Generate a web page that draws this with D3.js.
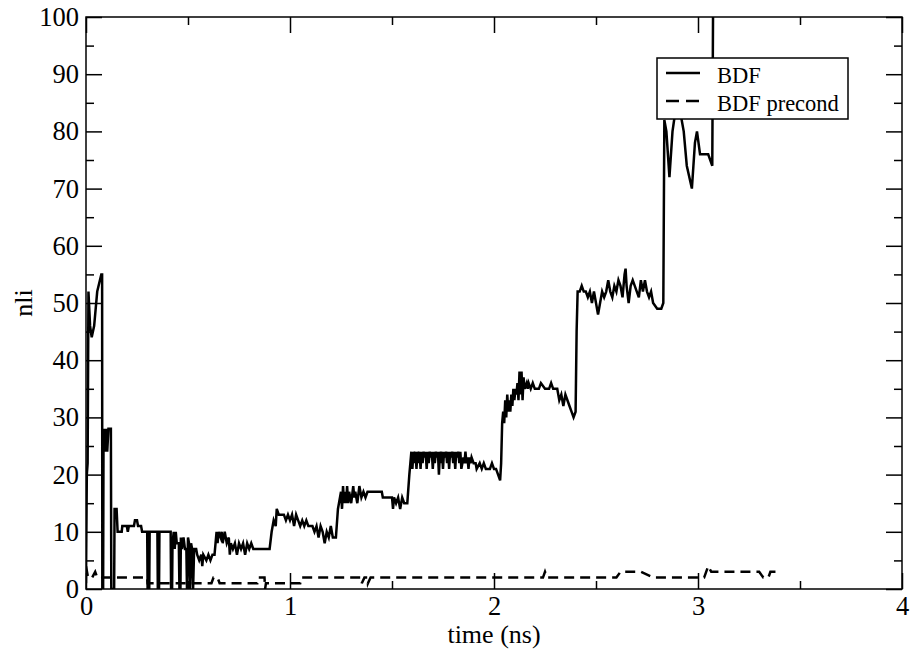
<!DOCTYPE html>
<html><head><meta charset="utf-8">
<script src="https://cdn.jsdelivr.net/npm/d3@7"></script>
<style>
body{margin:0;background:#fff}
svg text{font-family:"Liberation Serif","DejaVu Serif","Times New Roman",Times,serif !important;}
</style>
</head><body>
<svg id="c" width="912" height="654"></svg>
<script>
// ---- data ----
const xMajor = [0, 1, 2, 3, 4];
const xMinor = [0.5, 1.5, 2.5, 3.5];
const yMajor = [0, 10, 20, 30, 40, 50, 60, 70, 80, 90, 100];
const yMinor = [5, 15, 25, 35, 45, 55, 65, 75, 85, 95];
const seriesNames = ["BDF", "BDF precond"];
const xLabel = "time (ns)";
const yLabel = "nli";

// BDF: [time (ns), nli]
const bdf = [
[0,1],[0.004,20],[0.008,22],[0.012,52],[0.02,46],[0.028,44],[0.04,46],[0.055,52],[0.075,55],[0.079,55],
[0.08,0],[0.084,0],[0.086,28],[0.092,24],[0.098,28],[0.104,24],[0.11,28],[0.122,28],[0.124,0],[0.138,0],
[0.14,14],[0.15,14],[0.155,10],[0.175,10],[0.178,11],[0.2,11],[0.205,10],[0.21,11],[0.235,11],[0.24,12],
[0.25,12],[0.255,11],[0.27,11],[0.275,10],[0.3,10],[0.302,0],[0.31,0],[0.312,10],[0.35,10],[0.352,0],
[0.358,0],[0.36,10],[0.415,10],[0.417,0],[0.422,0],[0.424,8],[0.43,10],[0.435,7],[0.44,10],[0.445,8],
[0.455,8],[0.458,0],[0.463,0],[0.465,9],[0.47,7],[0.478,9],[0.485,7],[0.492,7],[0.495,0],[0.5,9],
[0.505,8],[0.51,0],[0.515,8],[0.52,7],[0.525,0],[0.53,7],[0.54,7],[0.545,6],[0.555,5],[0.565,6],
[0.57,4],[0.575,6],[0.59,5],[0.6,6],[0.61,5],[0.62,6],[0.63,6],[0.635,8],[0.64,10],[0.645,8],
[0.65,10],[0.66,9],[0.665,10],[0.67,8],[0.68,10],[0.69,8],[0.7,9],[0.705,6],[0.71,8],[0.72,7],
[0.73,8],[0.74,6],[0.75,8],[0.76,7],[0.77,8],[0.78,6],[0.79,8],[0.8,7],[0.81,8],[0.82,7],
[0.83,7],[0.9,7],[0.91,10],[0.92,12],[0.93,11],[0.935,14],[0.945,13],[0.97,13],[0.98,12],[0.99,13],
[1.0,12],[1.01,13],[1.02,11],[1.03,13],[1.04,12],[1.05,11],[1.06,12],[1.07,11],[1.08,12],[1.09,11],
[1.11,11],[1.12,10],[1.13,11],[1.14,9],[1.15,11],[1.16,10],[1.17,8],[1.18,10],[1.19,9],[1.2,11],
[1.21,9],[1.225,9],[1.235,14],[1.24,15],[1.25,17],[1.255,14],[1.26,18],[1.265,15],[1.27,17],[1.275,15],
[1.28,18],[1.285,15],[1.29,17],[1.3,15],[1.31,18],[1.315,16],[1.32,17],[1.33,15],[1.34,18],[1.35,16],
[1.36,17],[1.37,16],[1.38,17],[1.39,17],[1.45,17],[1.455,16],[1.5,16],[1.505,14],[1.51,16],[1.52,15],
[1.53,16],[1.54,14],[1.55,16],[1.56,15],[1.575,15],[1.585,20],[1.59,22],[1.595,24],[1.6,21],[1.605,24],
[1.61,22],[1.615,24],[1.62,21],[1.625,24],[1.63,22],[1.635,24],[1.64,21],[1.645,24],[1.65,22],[1.655,24],
[1.66,23],[1.665,24],[1.67,21],[1.675,24],[1.68,22],[1.685,24],[1.69,23],[1.695,24],[1.7,21],[1.705,24],
[1.71,22],[1.715,24],[1.72,23],[1.725,24],[1.73,20],[1.735,24],[1.74,22],[1.745,24],[1.75,21],[1.755,24],
[1.76,23],[1.765,24],[1.77,22],[1.775,24],[1.78,21],[1.785,24],[1.79,23],[1.795,24],[1.8,22],[1.805,24],
[1.81,21],[1.815,24],[1.82,23],[1.825,24],[1.83,22],[1.835,24],[1.84,21],[1.85,23],[1.855,22],[1.86,24],
[1.865,22],[1.87,23],[1.875,21],[1.88,23],[1.885,22],[1.89,23],[1.9,22],[1.91,22],[1.915,21],[1.93,22],
[1.94,21],[1.95,22],[1.96,21],[1.98,21],[1.99,22],[2.0,21],[2.01,21],[2.02,20],[2.03,19],[2.035,22],
[2.04,29],[2.045,31],[2.05,29],[2.055,33],[2.06,30],[2.065,34],[2.07,31],[2.075,33],[2.08,31],[2.085,34],
[2.09,32],[2.095,35],[2.1,33],[2.105,35],[2.11,34],[2.115,36],[2.12,33],[2.125,38],[2.13,34],[2.135,38],
[2.14,33],[2.145,37],[2.15,35],[2.16,36],[2.165,35],[2.17,36],[2.18,35],[2.19,36],[2.2,35],[2.22,35],
[2.23,36],[2.25,35],[2.27,35],[2.28,36],[2.29,35],[2.31,35],[2.32,33],[2.33,34],[2.34,32],[2.35,34],
[2.36,33],[2.37,32],[2.38,31],[2.39,30],[2.4,31],[2.405,45],[2.41,52],[2.42,52],[2.43,53],[2.44,52],
[2.45,52],[2.46,51],[2.47,52],[2.48,50],[2.49,52],[2.5,50],[2.51,48],[2.52,50],[2.53,52],[2.54,51],
[2.55,52],[2.56,54],[2.57,52],[2.58,51],[2.59,53],[2.6,52],[2.61,54],[2.62,53],[2.63,51],[2.64,55],
[2.645,56],[2.65,53],[2.66,50],[2.67,53],[2.68,54],[2.69,53],[2.7,52],[2.71,51],[2.72,54],[2.73,52],
[2.74,54],[2.75,52],[2.76,51],[2.77,52],[2.78,50],[2.8,49],[2.82,49],[2.83,50],[2.835,82],[2.845,80],
[2.86,72],[2.875,80],[2.887,83],[2.9,88],[2.91,84],[2.93,80],[2.945,74],[2.97,70],[2.985,78],[2.995,80],
[3.01,76],[3.02,76],[3.05,76],[3.07,74],[3.075,110]
];

// BDF precond: [time (ns), nli]
const precond = [
[0,4],[0.01,2],[0.03,2],[0.045,3],[0.055,2],[0.3,2],[0.302,1],[0.615,1],[0.625,2],[0.645,2],
[0.655,1],[0.84,1],[0.845,2],[0.875,2],[0.878,0],[0.882,1],[1.05,1],[1.055,2],[1.35,2],[1.352,1],
[1.365,2],[1.38,2],[1.382,1],[1.395,2],[2.24,2],[2.25,3],[2.26,2],[2.6,2],[2.62,3],[2.72,3],
[2.78,2],[3.03,2],[3.05,4],[3.065,3],[3.3,3],[3.32,2],[3.345,2],[3.355,3],[3.4,3]
];

// ---- layout ----
const L = 86, R = 902, T = 17, B = 589;
const svg = d3.select("#c");
const x = d3.scaleLinear().domain([0, 4]).range([L, R]);
const y = d3.scaleLinear().domain([0, 100]).range([B, T]);

svg.append("defs").append("clipPath").attr("id", "clip")
  .append("rect").attr("x", L).attr("y", T).attr("width", R - L).attr("height", B - T);

const line = d3.line().x(d => x(d[0])).y(d => y(d[1]));
const g = svg.append("g").attr("clip-path", "url(#clip)");
g.append("path").datum(bdf).attr("d", line)
  .attr("fill", "none").attr("stroke", "#000").attr("stroke-width", 2.5);
g.append("path").datum(precond).attr("d", line)
  .attr("fill", "none").attr("stroke", "#000").attr("stroke-width", 2.5).attr("stroke-dasharray", "10,6");

// ---- axes ----
function styleAxis(sel) {
  sel.attr("font-family", null).attr("font-size", null);
  sel.select(".domain").remove();
  sel.selectAll(".tick line").attr("stroke", "#000").attr("stroke-width", 1.5);
  sel.selectAll("text").style("font-size", "26.5px").attr("fill", "#000");
}
const MAJ = 16, MIN = 8;
svg.append("g").attr("transform", `translate(0,${B})`)
  .call(d3.axisBottom(x).tickValues(xMajor).tickSize(-MAJ).tickPadding(7).tickFormat(d3.format("d")))
  .call(styleAxis);
svg.append("g").attr("transform", `translate(0,${B})`)
  .call(d3.axisBottom(x).tickValues(xMinor).tickSize(-MIN).tickFormat(""))
  .call(styleAxis);
svg.append("g").attr("transform", `translate(0,${T})`)
  .call(d3.axisTop(x).tickValues(xMajor).tickSize(-MAJ).tickFormat(""))
  .call(styleAxis);
svg.append("g").attr("transform", `translate(0,${T})`)
  .call(d3.axisTop(x).tickValues(xMinor).tickSize(-MIN).tickFormat(""))
  .call(styleAxis);
svg.append("g").attr("transform", `translate(${L},0)`)
  .call(d3.axisLeft(y).tickValues(yMajor).tickSize(-MAJ).tickPadding(7).tickFormat(d3.format("d")))
  .call(styleAxis);
svg.append("g").attr("transform", `translate(${L},0)`)
  .call(d3.axisLeft(y).tickValues(yMinor).tickSize(-MIN).tickFormat(""))
  .call(styleAxis);
svg.append("g").attr("transform", `translate(${R},0)`)
  .call(d3.axisRight(y).tickValues(yMajor).tickSize(-MAJ).tickFormat(""))
  .call(styleAxis);
svg.append("g").attr("transform", `translate(${R},0)`)
  .call(d3.axisRight(y).tickValues(yMinor).tickSize(-MIN).tickFormat(""))
  .call(styleAxis);

svg.append("rect").attr("x", L).attr("y", T).attr("width", R - L).attr("height", B - T)
  .attr("fill", "none").attr("stroke", "#000").attr("stroke-width", 1.5);

// axis labels
svg.append("text").attr("x", (L + R) / 2).attr("y", 643).attr("text-anchor", "middle")
  .style("font-size", "26px").text(xLabel);
svg.append("text").attr("transform", `translate(32,${(T + B) / 2}) rotate(-90)`).attr("text-anchor", "middle")
  .style("font-size", "26px").text(yLabel);

// ---- legend ----
const lg = svg.append("g");
lg.append("rect").attr("x", 657).attr("y", 58).attr("width", 191).attr("height", 61)
  .attr("fill", "#fff").attr("stroke", "#000").attr("stroke-width", 1.5);
const dashes = [null, "13,7"];
seriesNames.forEach((name, i) => {
  const yy = 73 + i * 28;
  lg.append("line").attr("x1", 666).attr("x2", 700).attr("y1", yy).attr("y2", yy)
    .attr("stroke", "#000").attr("stroke-width", 2.5).attr("stroke-dasharray", dashes[i]);
  lg.append("text").attr("x", 717).attr("y", yy + 10)
    .style("font-size", "22.5px").text(name);
});
</script>
</body></html>
